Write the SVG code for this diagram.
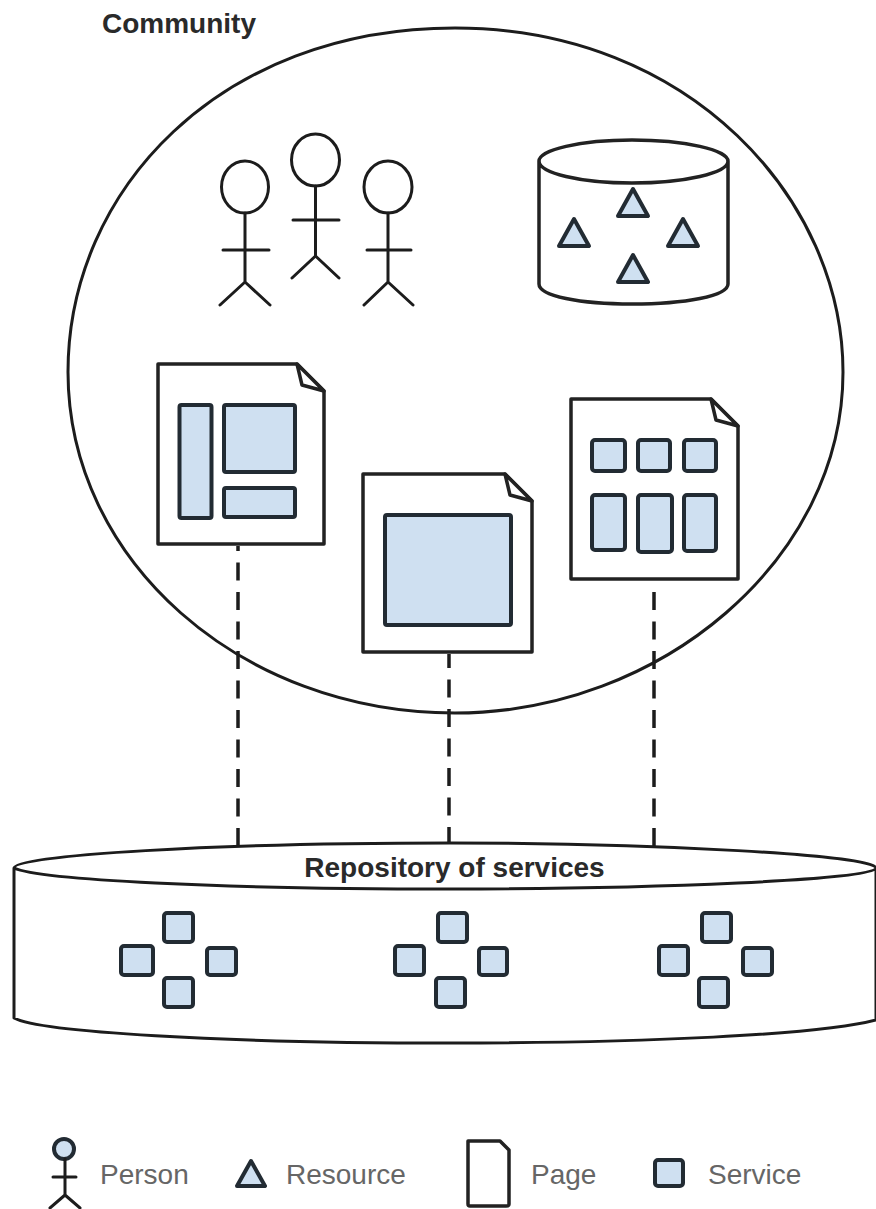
<svg xmlns="http://www.w3.org/2000/svg" width="876" height="1209" viewBox="0 0 876 1209">
<style>
.o{fill:#fff;stroke:#1c1c1c;stroke-width:3;stroke-linejoin:round;stroke-linecap:round}
.n{fill:none;stroke:#1c1c1c;stroke-width:3;stroke-linecap:round;stroke-linejoin:round}
.p{fill:#fff;stroke:#222;stroke-width:3.500;stroke-linejoin:round}
.s{fill:#cfe0f1;stroke:#222b33;stroke-width:4;stroke-linejoin:round}
.d{fill:none;stroke:#1c1c1c;stroke-width:3.500;stroke-dasharray:18 11.500}
.b{font:bold 28px "Liberation Sans",Arial,sans-serif;fill:#2a2a2a}
.l{font:28px "Liberation Sans",Arial,sans-serif;fill:#666}
</style>
<defs>
<path id="tri" class="s" d="M0-14L15 13H-15Z"/>
</defs>
<g id="connectors">
<path class="d" d="M238 846V546"/>
<path class="d" d="M449 845V654"/>
<path class="d" d="M654 846V590"/>
</g>
<g id="community">
<path class="n" d="M455 28C690 28 843 200 843 372C843 560 660 713 455 713C240 713 68 560 68 372C68 190 220 28 455 28Z"/>
<text class="b" x="102" y="33">Community</text>
</g>
<g id="people">
<g id="person1"><ellipse cx="245" cy="187" rx="23.500" ry="26" class="o"/><path class="n" d="M245 213V282M223 250H269M245 282L220 305M245 282L270 305"/></g>
<g id="person2"><ellipse cx="315.500" cy="160" rx="24" ry="26" class="o"/><path class="n" d="M315.500 186V256M293 220H339M315.500 256L292 278M315.500 256L339 278"/></g>
<g id="person3"><ellipse cx="388" cy="187" rx="24" ry="26" class="o"/><path class="n" d="M388 213V282M367 250H411M388 282L364 305M388 282L413 305"/></g>
</g>
<g id="resources">
<path class="p" d="M539 161V284C539 296 580 304 632 304C685 304 728 296 728 284V161C728 150 685 140 632 140C580 140 539 150 539 161C539 173 580 183 632 183C685 183 728 173 728 161"/>
<use href="#tri" x="633" y="203"/>
<use href="#tri" x="574" y="233"/>
<use href="#tri" x="683" y="233"/>
<use href="#tri" x="633" y="269"/>
</g>
<g id="page1">
<path class="p" d="M158 364H297L324 391V544H158Z"/>
<path class="p" d="M297 364L302 385L324 391Z"/>
<rect class="s" x="179.500" y="405" width="32" height="113" rx="2"/>
<rect class="s" x="224" y="405" width="71" height="67" rx="2"/>
<rect class="s" x="224" y="488" width="71" height="29" rx="2"/>
</g>
<g id="page2">
<path class="p" d="M363 474H505L532 501V652H363Z"/>
<path class="p" d="M505 474L510 495L532 501Z"/>
<rect class="s" x="385" y="515" width="126" height="110" rx="2"/>
</g>
<g id="page3">
<path class="p" d="M571 399H711L738 426V579H571Z"/>
<path class="p" d="M711 399L716 420L738 426Z"/>
<rect class="s" x="592" y="440" width="33" height="31" rx="3"/>
<rect class="s" x="638" y="440" width="32" height="31" rx="3"/>
<rect class="s" x="684" y="440" width="32" height="31" rx="3"/>
<rect class="s" x="592" y="495" width="33" height="55" rx="3"/>
<rect class="s" x="638" y="495" width="34" height="57" rx="3"/>
<rect class="s" x="684" y="495" width="32" height="56" rx="3"/>
</g>
<g id="repository">
<path class="o" d="M14 868V1018C40 1032 220 1043 450 1043C640 1043 820 1035 876 1020V868C876 855 650 843 450 843C220 843 14 855 14 868C40 880 220 889 450 889C650 889 876 880 876 868"/>
<text class="b" x="454.500" y="876.500" text-anchor="middle">Repository of services</text>
<g id="cluster1">
<rect class="s" x="164" y="913" width="29" height="29" rx="3"/>
<rect class="s" x="121" y="946" width="32" height="29" rx="3"/>
<rect class="s" x="207" y="948" width="29" height="27" rx="3"/>
<rect class="s" x="164" y="978" width="29" height="29" rx="3"/>
</g>
<g id="cluster2">
<rect class="s" x="438" y="913" width="29" height="29" rx="3"/>
<rect class="s" x="395" y="946" width="29" height="29" rx="3"/>
<rect class="s" x="479" y="948" width="28" height="27" rx="3"/>
<rect class="s" x="436" y="978" width="29" height="29" rx="3"/>
</g>
<g id="cluster3">
<rect class="s" x="702" y="913" width="29" height="29" rx="3"/>
<rect class="s" x="659" y="946" width="29" height="29" rx="3"/>
<rect class="s" x="743" y="948" width="29" height="27" rx="3"/>
<rect class="s" x="699" y="978" width="29" height="29" rx="3"/>
</g>
</g>
<g id="legend">
<circle cx="64" cy="1149" r="10" class="s"/>
<path class="n" d="M65 1159V1195M53 1177H76M65 1195L50 1208M65 1195L80 1208"/>
<text class="l" x="100" y="1184">Person</text>
<path class="s" d="M251 1161L265 1186H237Z"/>
<text class="l" x="286" y="1184">Resource</text>
<path class="p" d="M468 1141H500L509 1150V1204C509 1206 508 1206 506 1206H470C468 1206 468 1206 468 1204Z"/>
<text class="l" x="531" y="1184">Page</text>
<rect class="s" x="655" y="1160" width="28" height="26" rx="3"/>
<text class="l" x="708" y="1184">Service</text>
</g>
</svg>
